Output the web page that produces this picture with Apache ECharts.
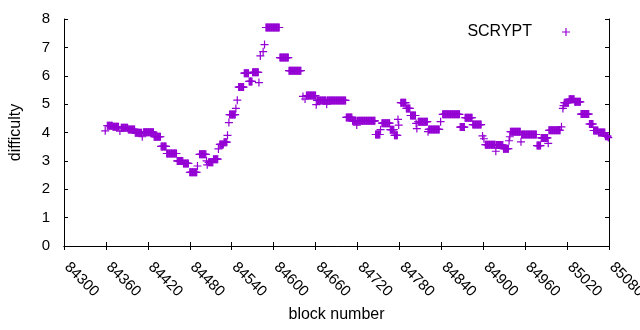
<!DOCTYPE html>
<html>
<head>
<meta charset="utf-8">
<script src="https://cdn.jsdelivr.net/npm/echarts@6/dist/echarts.min.js"></script>
<style>
html,body{margin:0;padding:0;background:#fff;}
#chart{width:640px;height:330px;}
</style>
</head>
<body>
<div id="chart"></div>
<script>
// Runs of consecutive blocks sharing the same difficulty (single blocks have start == end)
const runStart = [84359,84362,84370,84380,84382,84392,84402,84412,84414,84429,84439,84447,84462,84471,84480,84491,84494,84504,84505,84507,84514,84521,84523,84529,84534,84536,84537,84546,84548,84550,84558,84565,84570,84579,84581,84585,84587,84589,84609,84622,84642,84645,84647,84661,84662,84676,84677,84704,84713,84719,84720,84746,84753,84755,84767,84773,84778,84779,84782,84790,84796,84804,84805,84807,84821,84822,84839,84842,84867,84874,84885,84899,84901,84903,84918,84919,84929,84937,84938,84939,84954,84955,84977,84983,84993,84994,85012,85014,85015,85016,85023,85031,85040,85052,85058,85065,85075,85079];
const runEnd   = [84359,84369,84378,84380,84391,84401,84411,84412,84428,84438,84446,84461,84470,84478,84490,84491,84503,84504,84505,84513,84520,84521,84528,84533,84534,84536,84545,84546,84548,84557,84564,84569,84578,84579,84581,84585,84587,84608,84621,84639,84642,84645,84660,84661,84675,84676,84703,84712,84718,84719,84745,84752,84753,84766,84772,84777,84778,84779,84789,84795,84803,84804,84805,84820,84821,84837,84839,84866,84873,84884,84897,84899,84901,84917,84918,84928,84936,84937,84938,84953,84954,84976,84982,84992,84993,85010,85012,85014,85015,85022,85030,85039,85051,85057,85064,85074,85078,85079];
const runValue = [4.06,4.24,4.20,4.05,4.17,4.11,3.99,3.85,4.01,3.85,3.51,3.26,3.00,2.91,2.60,2.82,3.23,3.00,2.86,2.95,3.06,3.42,3.58,3.66,3.90,4.35,4.63,4.85,5.14,5.60,6.09,5.80,6.12,5.76,6.70,6.85,7.10,7.70,6.64,6.18,5.27,5.18,5.30,4.98,5.13,5.00,5.13,4.53,4.41,4.26,4.41,3.93,4.10,4.33,4.10,3.90,4.46,4.26,5.05,4.85,4.60,4.32,4.14,4.38,4.03,4.11,4.38,4.64,4.19,4.52,4.28,3.88,3.78,3.57,3.34,3.56,3.43,3.71,3.85,4.03,3.67,3.93,3.54,3.81,3.62,4.08,4.20,4.85,4.95,5.05,5.17,5.08,4.65,4.30,4.07,4.00,3.87,3.82];

const seriesName = 'SCRYPT';
const xName = 'block number';
const yName = 'difficulty';
const xMin = 84300, xMax = 85080, xStep = 60;
const yMin = 0, yMax = 8, yStep = 1;

const points = [];
for (let r = 0; r < runStart.length; r++) {
  for (let b = runStart[r]; b <= runEnd[r]; b++) points.push([b, runValue[r]]);
}

const FONT = '"Liberation Sans", Arial, sans-serif';
const plus = 'path://M3.4,0H4.6V3.4H8V4.6H4.6V8H3.4V4.6H0V3.4H3.4Z';
const color = '#9400d3';

const chart = echarts.init(document.getElementById('chart'), null, {renderer: 'canvas'});
const axisCommon = {
  axisLine: {show: true, lineStyle: {color: '#000', width: 1}},
  axisTick: {show: true, inside: true, length: 4, lineStyle: {color: '#000'}},
  splitLine: {show: false}
};
chart.setOption({
  animation: false,
  backgroundColor: '#fff',
  textStyle: {fontFamily: FONT},
  grid: {left: 64, right: 31, top: 19, bottom: 84, containLabel: false, outerBoundsMode: 'none'},
  legend: {
    data: [seriesName],
    right: 65, top: 19,
    align: 'right',
    itemWidth: 8, itemHeight: 8,
    icon: plus,
    textStyle: {fontFamily: FONT, fontSize: 16, color: '#000', padding: [0, 25, 0, 0]}
  },
  xAxis: [
    Object.assign({
      type: 'value', min: xMin, max: xMax, interval: xStep, position: 'bottom',
      name: xName, nameLocation: 'middle', nameGap: 61,
      nameTextStyle: {fontFamily: FONT, fontSize: 16, color: '#000'},
      axisLabel: {rotate: -45, margin: 16, padding: [0, 0, 0, 4], fontFamily: FONT, fontSize: 15, color: '#000',
        showMinLabel: true, showMaxLabel: true, hideOverlap: false,
        formatter: v => String(v)}
    }, axisCommon),
    Object.assign({
      type: 'value', min: xMin, max: xMax, interval: xStep, position: 'top',
      axisLabel: {show: false}
    }, axisCommon)
  ],
  yAxis: [
    Object.assign({
      type: 'value', min: yMin, max: yMax, interval: yStep, position: 'left',
      name: yName, nameLocation: 'middle', nameGap: 40,
      nameTextStyle: {fontFamily: FONT, fontSize: 16, color: '#000'},
      axisLabel: {margin: 14, fontFamily: FONT, fontSize: 15, color: '#000', formatter: v => String(v)}
    }, axisCommon),
    Object.assign({
      type: 'value', min: yMin, max: yMax, interval: yStep, position: 'right',
      axisLabel: {show: false}
    }, axisCommon)
  ],
  series: [{
    name: seriesName,
    type: 'scatter',
    data: points,
    symbol: plus,
    symbolSize: 8,
    itemStyle: {color: color, opacity: 1},
    emphasis: {disabled: true},
    xAxisIndex: 0, yAxisIndex: 0
  }]
});
</script>
</body>
</html>
